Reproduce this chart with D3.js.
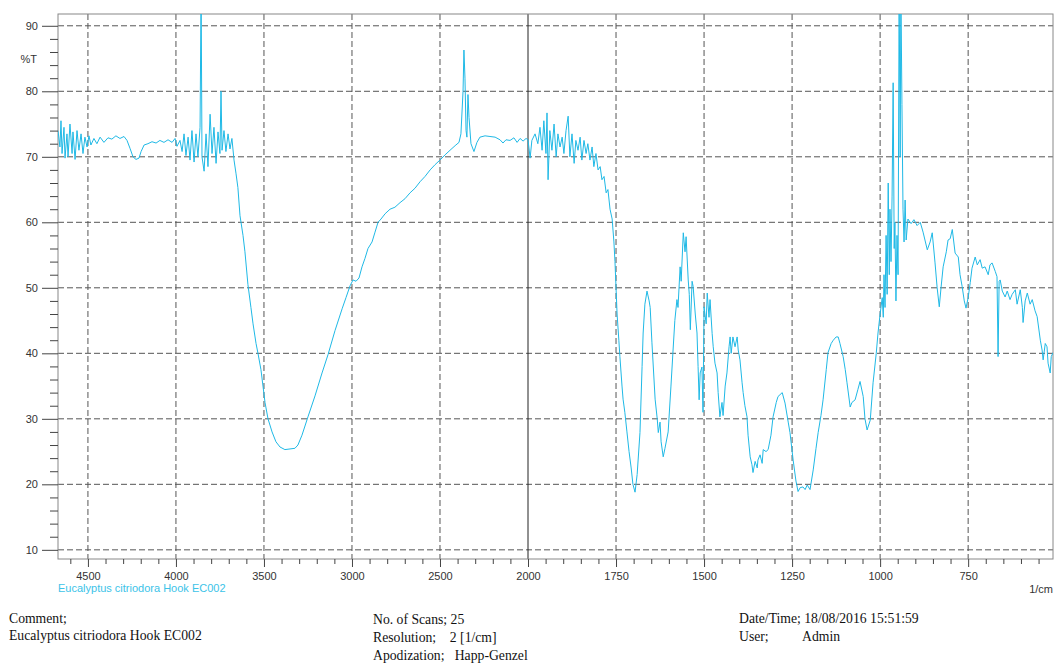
<!DOCTYPE html>
<html>
<head>
<meta charset="utf-8">
<script src="https://cdn.jsdelivr.net/npm/d3@7"></script>
<style>
    html, body { margin: 0; padding: 0; background: #fff; }
    svg { display: block; }
    .tick-label { font-family: "Liberation Sans", Arial, sans-serif; font-size: 11px; fill: #333; }
    .footer { font-family: "Liberation Serif", "Times New Roman", serif; font-size: 13.7px; fill: #111; }
</style>
</head>
<body>
<div id="chart"></div>
<script>
// FTIR spectrum - Eucalyptus citriodora Hook EC002

// wavenumber (1/cm)
const wavenumber = [
    4670, 4659, 4653, 4647, 4636, 4630, 4619, 4613, 4602, 4590, 4585, 4573, 4562, 4551, 4539, 4528, 4517, 4505,
    4494, 4483, 4466, 4449, 4431, 4409, 4386, 4364, 4341, 4318, 4295, 4278, 4261, 4244, 4227, 4210, 4198, 4181,
    4159, 4136, 4113, 4091, 4068, 4045, 4022, 4005, 3994, 3977, 3965, 3954, 3943, 3931, 3920, 3909, 3897, 3886,
    3875, 3863, 3857, 3852, 3840, 3829, 3818, 3806, 3795, 3784, 3772, 3761, 3750, 3744, 3738, 3727, 3716, 3704,
    3693, 3682, 3670, 3659, 3648, 3636, 3619, 3608, 3591, 3574, 3562, 3545, 3534, 3517, 3494, 3477, 3454, 3432,
    3409, 3381, 3352, 3324, 3307, 3284, 3250, 3210, 3170, 3136, 3096, 3056, 3034, 3011, 2994, 2977, 2960, 2943,
    2926, 2909, 2886, 2869, 2852, 2835, 2812, 2784, 2756, 2727, 2699, 2670, 2642, 2613, 2585, 2556, 2528, 2500,
    2471, 2443, 2414, 2392, 2381, 2369, 2364, 2358, 2352, 2347, 2341, 2335, 2324, 2307, 2290, 2273, 2244, 2216,
    2187, 2159, 2142, 2125, 2102, 2080, 2062, 2045, 2028, 2011, 2000,
    1994, 1989, 1980, 1972, 1966, 1960, 1955, 1949, 1946, 1943, 1938, 1932, 1926, 1920, 1915, 1909, 1903, 1898,
    1892, 1886, 1881, 1875, 1869, 1864, 1858, 1852, 1847, 1841, 1835, 1830, 1824, 1818, 1813, 1807, 1801, 1795,
    1790, 1784, 1778, 1773, 1767, 1761, 1756, 1753, 1747, 1742, 1739, 1733, 1730, 1725, 1719, 1713, 1707, 1702,
    1696, 1690, 1682, 1676, 1673, 1668, 1662, 1656, 1653, 1648, 1639, 1633, 1630, 1625, 1622, 1616, 1611, 1602,
    1594, 1588, 1583, 1577, 1574, 1568, 1565, 1559, 1554, 1551, 1545, 1542, 1539, 1534, 1531, 1525, 1520, 1517,
    1514, 1511, 1506, 1503, 1500, 1494, 1491, 1486, 1483, 1477, 1474, 1469, 1463, 1460, 1455, 1449, 1446, 1440,
    1435, 1429, 1426, 1423, 1418, 1412, 1406, 1403, 1398, 1392, 1389, 1384, 1378, 1375, 1369, 1364, 1361, 1355,
    1349, 1347, 1341, 1335, 1332, 1324, 1318, 1310, 1304, 1295, 1290, 1278, 1270, 1261, 1256, 1247, 1239, 1233,
    1227, 1219, 1213, 1207, 1199, 1190, 1182, 1176, 1168, 1162, 1153, 1148, 1139, 1133, 1125, 1119, 1114, 1105,
    1099, 1094, 1085, 1080, 1071, 1063, 1057, 1048, 1043, 1037, 1028, 1020, 1011, 1006, 1000, 994, 991, 989,
    986, 983, 980, 977, 974, 972, 969, 966, 963, 960, 958, 955, 952, 949, 946, 943, 941, 938,
    935, 932, 929, 926, 921, 912, 904, 895, 886, 878, 866, 858, 852, 844, 838, 832, 827, 821,
    812, 807, 801, 795, 787, 778, 773, 767, 761, 756, 750, 744, 739, 730, 724, 716, 710, 702,
    693, 688, 682, 673, 668, 665, 662, 659, 653, 645, 639, 631, 625, 616, 611, 602, 596, 594,
    588, 582, 574, 568, 560, 554, 545, 540, 537, 531, 526, 523, 517, 514, 509
];

// transmittance (%T), same order
const transmittance = [
    74, 71.5, 75.5, 70.5, 74.5, 69.8, 73.5, 70, 75, 70.5, 73.8, 69.6, 74, 71, 73.5, 70.5, 73, 71.5,
    73.2, 71.8, 72.8, 72, 73, 72.2, 72.9, 72.7, 73.2, 72.8, 73.1, 72.5, 71.3, 70, 69.6, 69.8, 70.8, 71.8,
    72, 72.3, 72.1, 72.5, 72.2, 72.6, 72.2, 72.8, 71.6, 72.5, 70.8, 73.5, 70.2, 73, 69.5, 74, 69.2, 73.5,
    70, 74.5, 96, 70, 67.8, 73.5, 68.5, 76.5, 70.5, 74.5, 69, 73.8, 70.5, 80, 71, 74, 70.8, 73.5,
    71.2, 72.8, 69.5, 67.5, 65.3, 61, 58, 55.5, 50.5, 47, 44.5, 41.5, 40, 37.5, 32.5, 30, 28, 26.5,
    25.7, 25.3, 25.4, 25.5, 26, 27.5, 30.3, 33.5, 37, 39.8, 43.5, 46.8, 48.5, 50.3, 51.2, 51, 51.5, 53.2,
    54.5, 56, 57, 58.5, 60, 60.5, 61.3, 62, 62.3, 63, 63.6, 64.5, 65.2, 66.2, 67, 68, 68.8, 69.5,
    70.3, 71, 71.7, 72.2, 73.5, 80, 86.3, 82, 74, 73, 79.5, 76, 72, 70.8, 72.2, 73, 73.2, 73.1,
    73, 72.6, 72.1, 72.6, 72.5, 72.9, 72.2, 72.8, 72.4, 72.8, 72.6,
    69.8, 72.5, 73.5, 72, 74.5, 71, 75.5, 70.5, 76.7, 66.5, 74, 71, 75, 70, 73.5, 71.5, 73, 70.5,
    74, 76.2, 70, 73.5, 69, 72.5, 71, 73, 69.5, 72.5, 70.5, 72, 69.5, 71.5, 68.5, 70.5, 68, 68.5,
    66.5, 67, 64.5, 65, 62, 60.5, 57, 54, 46, 42, 39.5, 35, 33, 31, 28, 25, 22.5, 20,
    18.8, 21.5, 27.9, 38, 43.1, 47.5, 49.5, 48, 47, 41.6, 33, 30, 27.9, 29.5, 26.5, 24.2, 25.5, 28,
    35, 40.5, 45, 48.2, 47, 53.2, 51, 58.4, 55.5, 57.8, 51.2, 49, 43.6, 51, 50.2, 46, 43.1, 38,
    32.9, 37, 37.9, 31, 47.1, 44.5, 49.2, 45.5, 48.2, 43, 41, 38.5, 37, 34, 30.3, 32.5, 30.5, 35,
    37, 41, 42.5, 40, 42.5, 41, 42.5, 40.5, 39, 35.5, 34, 32, 30.3, 27.5, 24.2, 23, 21.8, 23.5,
    22.5, 23.7, 24.5, 23.2, 25.3, 25, 25.3, 27.5, 30.3, 32.5, 33.4, 34, 32.4, 29.5, 27.9, 23.7, 20.5, 18.9,
    19.5, 19.6, 19.2, 19.9, 19.2, 22.2, 25.5, 27.9, 30.5, 32.9, 37.5, 40.1, 41.5, 42, 42.5, 42.5, 41.5, 39.5,
    37.5, 35.5, 31.8, 32.5, 32.9, 34.5, 35.7, 33.4, 30, 28.3, 29.8, 35.5, 40, 43.1, 46, 48.5, 45.5, 52,
    47, 58, 49, 66, 52, 62, 54, 64, 81.3, 56, 60, 48, 58, 52, 95, 70, 96, 78,
    62, 57, 63.4, 57.3, 60.5, 59.8, 60.4, 59.5, 60, 58.5, 55.8, 57, 58.4, 53.8, 50, 47.1, 50, 53.2,
    55.5, 57.3, 57.5, 58.9, 55.3, 54.7, 52, 50.2, 48, 46.9, 48.5, 50.8, 53, 54.7, 53.5, 54.3, 53, 53.2,
    52, 53.5, 53.8, 52.5, 51.7, 39.5, 51, 51.2, 49.5, 48.6, 49.5, 48.2, 49, 49.7, 47.5, 49.7, 47, 44.7,
    48, 49.2, 47.5, 48.2, 46.5, 45.6, 42, 40.5, 39, 41.5, 41, 38.5, 37, 39.5, 40.1
];

// ticks
const xMajorTicks = [4500, 4000, 3500, 3000, 2500, 2000, 1750, 1500, 1250, 1000, 750];
const yMajorTicks = [10, 20, 30, 40, 50, 60, 70, 80, 90];

const sampleName = 'Eucalyptus citriodora Hook EC002';

const width = 1055;
const height = 665;
const plot = { left: 58, top: 14, right: 1053, bottom: 559 };

const svg = d3.select('#chart')
    .append('svg')
    .attr('width', width)
    .attr('height', height);

// x axis is expanded below 2000 1/cm (two linear pieces)
const x = d3.scaleLinear()
    .domain([4670, 2000, 509])
    .range([plot.left, 528, plot.right]);

const y = d3.scaleLinear()
    .domain([8.6, 91.8])
    .range([plot.bottom, plot.top]);

// minor ticks: every 100 above 2000, every 50 below
const xMinorTicks = d3.range(4600, 2000, -100).concat(d3.range(1950, 500, -50))
    .filter(v => !xMajorTicks.includes(v));
const yMinorTicks = d3.range(10, 92, 2).filter(v => v % 10 !== 0);

// 网格 - dashed grid
const grid = svg.append('g').attr('class', 'grid');
grid.selectAll('line.gx')
    .data(xMajorTicks.filter(v => v !== 2000))
    .enter().append('line')
    .attr('x1', d => x(d)).attr('x2', d => x(d))
    .attr('y1', plot.top).attr('y2', plot.bottom)
    .attr('stroke', '#555')
    .attr('stroke-dasharray', '6,3');
grid.selectAll('line.gy')
    .data(yMajorTicks)
    .enter().append('line')
    .attr('x1', plot.left).attr('x2', plot.right)
    .attr('y1', d => y(d)).attr('y2', d => y(d))
    .attr('stroke', '#555')
    .attr('stroke-dasharray', '6,3');

// solid split line at 2000
svg.append('line')
    .attr('x1', x(2000)).attr('x2', x(2000))
    .attr('y1', plot.top).attr('y2', plot.bottom)
    .attr('stroke', '#222');

// frame
svg.append('rect')
    .attr('x', plot.left).attr('y', plot.top)
    .attr('width', plot.right - plot.left)
    .attr('height', plot.bottom - plot.top)
    .attr('fill', 'none')
    .attr('stroke', '#888');

// x axis
const xAxisMajor = d3.axisBottom(x)
    .tickValues(xMajorTicks)
    .tickSize(8)
    .tickPadding(5)
    .tickFormat(d3.format('d'));
const gx = svg.append('g')
    .attr('transform', `translate(0,${plot.bottom})`)
    .call(xAxisMajor);
gx.select('.domain').remove();
gx.selectAll('line').attr('stroke', '#444');
gx.selectAll('text').attr('class', 'tick-label').attr('font-family', null).attr('font-size', null);

const gxMinor = svg.append('g')
    .attr('transform', `translate(0,${plot.bottom})`)
    .call(d3.axisBottom(x).tickValues(xMinorTicks).tickSize(5).tickFormat(''));
gxMinor.select('.domain').remove();
gxMinor.selectAll('line').attr('stroke', '#444');

// y axis
const gy = svg.append('g')
    .attr('transform', `translate(${plot.left},0)`)
    .call(d3.axisLeft(y).tickValues(yMajorTicks).tickSize(16).tickPadding(4));
gy.select('.domain').remove();
gy.selectAll('line').attr('stroke', '#444');
gy.selectAll('text').attr('class', 'tick-label').attr('font-family', null).attr('font-size', null);

const gyMinor = svg.append('g')
    .attr('transform', `translate(${plot.left},0)`)
    .call(d3.axisLeft(y).tickValues(yMinorTicks).tickSize(8).tickFormat(''));
gyMinor.select('.domain').remove();
gyMinor.selectAll('line').attr('stroke', '#444');

// axis labels
svg.append('text')
    .attr('class', 'tick-label')
    .attr('x', 37).attr('y', y(85) + 4)
    .attr('text-anchor', 'end')
    .text('%T');
svg.append('text')
    .attr('class', 'tick-label')
    .attr('x', plot.right).attr('y', 593)
    .attr('text-anchor', 'end')
    .text('1/cm');

// spectrum
svg.append('clipPath')
    .attr('id', 'plot-clip')
    .append('rect')
    .attr('x', plot.left).attr('y', plot.top)
    .attr('width', plot.right - plot.left)
    .attr('height', plot.bottom - plot.top);

const points = wavenumber.map((w, i) => [w, transmittance[i]]);
const line = d3.line()
    .x(d => x(d[0]))
    .y(d => y(d[1]));

svg.append('path')
    .datum(points)
    .attr('clip-path', 'url(#plot-clip)')
    .attr('d', line)
    .attr('fill', 'none')
    .attr('stroke', '#1fb9e6')
    .attr('stroke-width', 1)
    .attr('stroke-linejoin', 'round');

// legend (sample name)
svg.append('text')
    .attr('x', plot.left).attr('y', 592)
    .attr('font-family', '"Liberation Sans", Arial, sans-serif')
    .attr('font-size', '11px')
    .attr('fill', '#3cc3e8')
    .text(sampleName);

// footer info
const footer = [
    { x: 9, y: 623, t: 'Comment;' },
    { x: 9, y: 640, t: sampleName },
    { x: 373, y: 624, t: 'No. of Scans; 25' },
    { x: 373, y: 642, t: 'Resolution;    2 [1/cm]' },
    { x: 373, y: 660, t: 'Apodization;   Happ-Genzel' },
    { x: 739, y: 623, t: 'Date/Time; 18/08/2016 15:51:59' },
    { x: 739, y: 641, t: 'User;          Admin' }
];
svg.selectAll('text.footer')
    .data(footer)
    .enter().append('text')
    .attr('class', 'footer')
    .attr('x', d => d.x)
    .attr('y', d => d.y)
    .attr('xml:space', 'preserve')
    .style('white-space', 'pre')
    .text(d => d.t);
</script>
</body>
</html>
